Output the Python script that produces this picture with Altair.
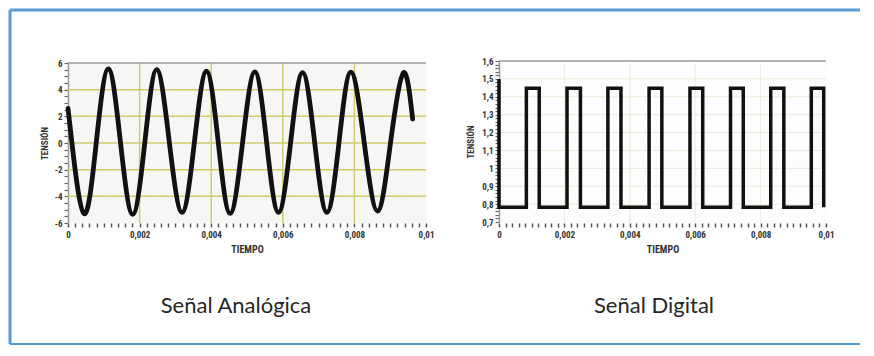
import altair as alt
import pandas as pd

# ---------------- data ----------------
# Analog signal: key points (start, troughs, zero crossings, peaks, end)
analog_t = [0.0, 0.000110, 0.000447, 0.000788, 0.001128, 0.001468, 0.001808,
            0.002144, 0.002479, 0.002833, 0.003187, 0.003528, 0.003868,
            0.004199, 0.004530, 0.004875, 0.005219, 0.005550, 0.005881,
            0.006217, 0.006552, 0.006892, 0.007232, 0.007568, 0.007903,
            0.008276, 0.008649, 0.009008, 0.009366, 0.009627]
analog_v = [2.6, 0, -5.3, 0, 5.55, 0, -5.35,
            0, 5.5, 0, -5.2, 0, 5.38,
            0, -5.28, 0, 5.33, 0, -5.2,
            0, 5.28, 0, -5.2, 0, 5.32,
            0, -5.1, 0, 5.25, 1.8]

# Digital signal: edges of each pulse
rise_t = [0.000837, 0.00208, 0.00333, 0.00459, 0.00584, 0.00708, 0.00831, 0.00955]
fall_t = [0.00123, 0.00249, 0.00373, 0.00498, 0.00623, 0.00747, 0.00871, 0.00993]
digital_start = 1.5
digital_low = 0.783
digital_high = 1.448

# tick / grid values
x_ticks = [round(i * 0.0002, 4) for i in range(51)]
analog_y_ticks = [i * 0.5 for i in range(-12, 13)]
digital_y_ticks = [round(0.7 + i * 0.02, 2) for i in range(46)]
time_grid = [0.002, 0.004, 0.006, 0.008]
analog_v_grid = [-4, -2, 0, 2, 4]
digital_v_grid = [0.8, 0.9, 1.0, 1.1, 1.2, 1.3, 1.4, 1.5]
captions = ["Señal Analógica", "Señal Digital"]
axis_titles = ["TIEMPO", "TENSIÓN"]

# ---------------- tables ----------------
analog_df = pd.DataFrame({"t": analog_t, "v": analog_v, "i": range(len(analog_t))})
pts = [(0.0, digital_start), (0.0, digital_low)]
for r, f in zip(rise_t, fall_t):
    pts += [(r, digital_low), (r, digital_high), (f, digital_high), (f, digital_low)]
digital_df = pd.DataFrame({"t": [p[0] for p in pts], "v": [p[1] for p in pts],
                           "i": range(len(pts))})

# ---------------- style ----------------
AX_FONT = "Liberation Sans Narrow, Roboto Condensed, DejaVu Sans Condensed, Arial Narrow, Liberation Sans, sans-serif"
CAP_FONT = "Lato, Open Sans, sans-serif"
BLUE = "#5b9bd5"
W1, W2, H = 358, 327, 160
one = alt.Data(values=[{}])

x_label_expr = "(round(datum.value*10000) % 20 == 0) ? replace(format(datum.value, '.3~f'), '.', ',') : ''"


def x_axis():
    return alt.Axis(values=x_ticks, labelExpr=x_label_expr, tickSize=4, tickWidth=1.5,
                    tickColor="#555", domain=False, grid=False, labelFont=AX_FONT,
                    labelFontSize=9, labelFontWeight="bold", labelColor="#333",
                    labelPadding=3, labelFlush=False, labelOverlap=False,
                    title=axis_titles[0], titleFont=AX_FONT, titleFontSize=10,
                    titleFontWeight="bold", titleColor="#333", titlePadding=5)


def y_axis(values, expr, pad):
    return alt.Axis(values=values, labelExpr=expr, tickSize=4, tickWidth=1.2,
                    tickColor="#666", domain=True, domainColor="#999", domainWidth=1.5,
                    grid=False, labelFont=AX_FONT, labelFontSize=9, labelFontWeight="bold",
                    labelColor="#333", labelPadding=2, labelOverlap=False,
                    title=axis_titles[1], titleFont=AX_FONT, titleFontSize=9,
                    titleFontWeight="bold", titleColor="#333", titlePadding=pad)


# ---------------- analog panel ----------------
xsA = alt.Scale(domain=[0, 0.01], nice=False, zero=False)
ysA = alt.Scale(domain=[-6, 6], nice=False, zero=False)
GRID_A = "#cfcc6c"
xA = alt.X("t:Q", scale=xsA, axis=x_axis())
yA = alt.Y("v:Q", scale=ysA, axis=y_axis(
    analog_y_ticks, "(round(datum.value*2) % 4 == 0) ? ('' + datum.value) : ''", 5))

a_vgrid = alt.Chart(pd.DataFrame({"t": time_grid})).mark_rule(
    color=GRID_A, strokeWidth=1.5).encode(x=xA)
a_hgrid = alt.Chart(pd.DataFrame({"v": analog_v_grid})).mark_rule(
    color=GRID_A, strokeWidth=1.5).encode(y=yA)
a_top = alt.Chart(one).mark_rule(color="#9a9a9a", strokeWidth=1.5).encode(
    x=alt.value(0), x2=alt.value(W1), y=alt.value(0))
a_line = alt.Chart(analog_df).mark_line(
    interpolate="natural", color="#111", strokeWidth=4.8, strokeCap="round").encode(
    x=xA, y=yA, order="i:Q")
a_cap = alt.Chart(one).mark_text(font=CAP_FONT, fontSize=22, color="#262626",
                                 align="center", baseline="alphabetic").encode(
    x=alt.value(168), y=alt.value(250), text=alt.value(captions[0]))
b_left = alt.Chart(one).mark_rule(color=BLUE, strokeWidth=3).encode(
    x=alt.value(-58), y=alt.value(-53), y2=alt.value(281))
b_top = alt.Chart(one).mark_rule(color=BLUE, strokeWidth=3).encode(
    x=alt.value(-58), x2=alt.value(792), y=alt.value(-53))
b_bot = alt.Chart(one).mark_rule(color=BLUE, strokeWidth=2).encode(
    x=alt.value(-58), x2=alt.value(792), y=alt.value(281))

analog = alt.layer(a_vgrid, a_hgrid, a_top, a_line, a_cap, b_left, b_top, b_bot).properties(
    width=W1, height=H,
    view=alt.ViewBackground(fill="#f6f6f5", stroke="transparent"))

# ---------------- digital panel ----------------
xsD = alt.Scale(domain=[0, 0.01], nice=False, zero=False)
ysD = alt.Scale(domain=[0.7, 1.6], nice=False, zero=False, range=[159, -2])
GRID_D = "#eceadb"
xD = alt.X("t:Q", scale=xsD, axis=x_axis())
yD = alt.Y("v:Q", scale=ysD, axis=y_axis(
    digital_y_ticks,
    "(round(datum.value*50) % 5 == 0) ? replace('' + round(datum.value*10)/10, '.', ',') : ''", 6))

d_vgrid = alt.Chart(pd.DataFrame({"t": time_grid})).mark_rule(
    color=GRID_D, strokeWidth=1).encode(x=xD)
d_hgrid = alt.Chart(pd.DataFrame({"v": digital_v_grid})).mark_rule(
    color=GRID_D, strokeWidth=1).encode(y=yD)
d_top = alt.Chart(one).mark_rule(color="#9a9a9a", strokeWidth=1.5).encode(
    x=alt.value(0), x2=alt.value(W2), y=alt.value(-2))
d_line = alt.Chart(digital_df).mark_line(color="#111", strokeWidth=3.5).encode(
    x=xD, y=yD, order="i:Q")
d_cap = alt.Chart(one).mark_text(font=CAP_FONT, fontSize=22, color="#262626",
                                 align="center", baseline="alphabetic").encode(
    x=alt.value(155), y=alt.value(250), text=alt.value(captions[1]))

digital = alt.layer(d_vgrid, d_hgrid, d_top, d_line, d_cap).properties(
    width=W2, height=H,
    view=alt.ViewBackground(fill="#fdfdfd", stroke="transparent"))

chart = alt.HConcatChart(hconcat=[analog, digital], spacing=73, bounds="flush").properties(
    padding={"left": 0, "top": 0, "right": 0, "bottom": 0},
    background="white",
).configure_view(stroke="transparent")

chart.save("out.html", embed_options={"renderer": "svg", "actions": False})
